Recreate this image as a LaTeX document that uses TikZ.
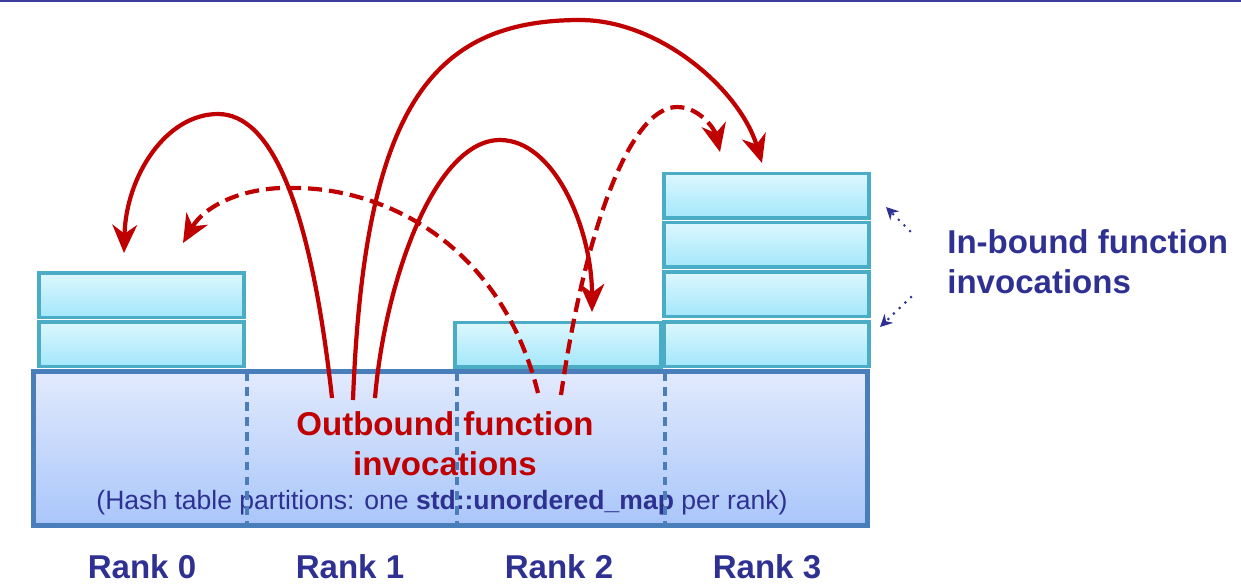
\documentclass[tikz,border=0pt]{standalone}
\usepackage{fontspec}
\setmainfont{Liberation Sans}
\usetikzlibrary{arrows.meta,shadows}
\definecolor{myred}{HTML}{C00000}
\definecolor{navy}{HTML}{2E3192}
\definecolor{tealb}{HTML}{4BACC6}
\definecolor{tealtop}{HTML}{DDF7FE}
\definecolor{tealbot}{HTML}{A3E7FB}
\definecolor{bigb}{HTML}{4A7EBB}
\definecolor{bigtop}{HTML}{E2EAFD}
\definecolor{bigbot}{HTML}{A9C6FA}
\definecolor{topl}{HTML}{3C3C9C}
\begin{document}
\begin{tikzpicture}[x=0.02cm,y=-0.02cm,
  bigbox/.style={draw=bigb, line width=2.8pt, top color=bigtop, bottom color=bigbot, inner sep=0pt, outer sep=0pt,
     drop shadow={shadow xshift=0.6pt, shadow yshift=-1.2pt, opacity=0.35}},
  tealbox/.style={draw=tealb, line width=2pt, top color=tealtop, bottom color=tealbot, inner sep=0pt, outer sep=0pt,
     minimum width=4.11cm, minimum height=0.89cm},
  divider/.style={draw=bigb, line width=1.8pt, dash pattern=on 5pt off 3.5pt},
  redarrow/.style={draw=myred, line width=2.4pt, -{Stealth[length=16pt,width=14pt,inset=5pt]}},
  reddash/.style={redarrow, dash pattern=on 8pt off 4pt},
  bluearrow/.style={draw=navy, line width=1.7pt, line cap=round, dash pattern=on 0pt off 4.5pt, -{Stealth[length=7pt,width=7pt]}},
  bigtext/.style={font=\fontsize{18.8}{22.7}\selectfont\bfseries, inner sep=0pt},
  ranklabel/.style={bigtext, text=navy, anchor=base}
]
\useasboundingbox (0,0) rectangle (1241,583);
\draw[topl, line width=1.2pt] (0,1) -- (1241,1);

% hash table
\node[bigbox, minimum width=16.68cm, minimum height=3.08cm] (big) at (450.5,448.5) {};

% rank boxes
\node[tealbox] (r0a) at (141.5,295) {};
\node[tealbox] (r0b) at (141.5,344) {};
\node[tealbox, minimum width=4.13cm] (r2a) at (558,344.5) {};
\node[tealbox] (r3a) at (766.5,195.5) {};
\node[tealbox] (r3b) at (766.5,244.5) {};
\node[tealbox] (r3c) at (766.5,294) {};
\node[tealbox] (r3d) at (766.5,344) {};

% texts
\node[bigtext, text=myred, align=center] (out) at (445,443.5) {Outbound function\\invocations};
\node[anchor=base, inner sep=0pt, text=navy, font=\fontsize{15.1}{18}\selectfont] (hash) at (442,509)
  {(Hash table partitions: one \textbf{std::unordered\_map} per rank)};
\node[bigtext, text=navy, align=left, anchor=west] (inb) at (947,262) {In-bound function\\invocations};
\node[ranklabel] (rk0) at (142,578) {Rank 0};
\node[ranklabel] (rk1) at (350,578) {Rank 1};
\node[ranklabel] (rk2) at (559,578) {Rank 2};
\node[ranklabel] (rk3) at (767,578) {Rank 3};

% partition dividers
\coordinate (d1t) at (247,372); \coordinate (d1b) at (247,526);
\coordinate (d2t) at (457,372); \coordinate (d2b) at (457,526);
\coordinate (d3t) at (665,372); \coordinate (d3b) at (665,526);
\draw[divider] (d1t) -- (d1b);
\draw[divider] (d2t) -- (d2b);
\draw[divider] (d3t) -- (d3b);

% outbound arrows
\coordinate (s1) at (332,398); \coordinate (e1) at (124,253);
\coordinate (s2) at (353,400); \coordinate (e2) at (762,163);
\coordinate (s3) at (375,398); \coordinate (e3) at (592,312);
\coordinate (s4) at (538,393); \coordinate (e4) at (183,243);
\coordinate (s5) at (561,395); \coordinate (e5) at (720,152);
\draw[redarrow] (s1) .. controls (310,200) and (270,114) .. (218,114) .. controls (166,114) and (126,176) .. (e1);
\draw[redarrow] (s2) .. controls (364,110) and (430,20) .. (580,20) .. controls (660,20) and (740,90) .. (e2);
\draw[redarrow] (s3) .. controls (385,280) and (435,140) .. (500,140) .. controls (555,140) and (592,230) .. (e3);
\draw[reddash] (s4) .. controls (500,240) and (380,188) .. (295,188) .. controls (245,186) and (205,205) .. (e4);
\draw[reddash] (s5) .. controls (585,230) and (630,107) .. (677,107) .. controls (700,107) and (715,130) .. (e5);

% inbound arrows
\coordinate (b1s) at (910,231); \coordinate (b1e) at (886,207);
\coordinate (b2s) at (911,297); \coordinate (b2e) at (880,327);
\draw[bluearrow] (b1s) -- (b1e);
\draw[bluearrow] (b2s) -- (b2e);
\end{tikzpicture}
\end{document}
